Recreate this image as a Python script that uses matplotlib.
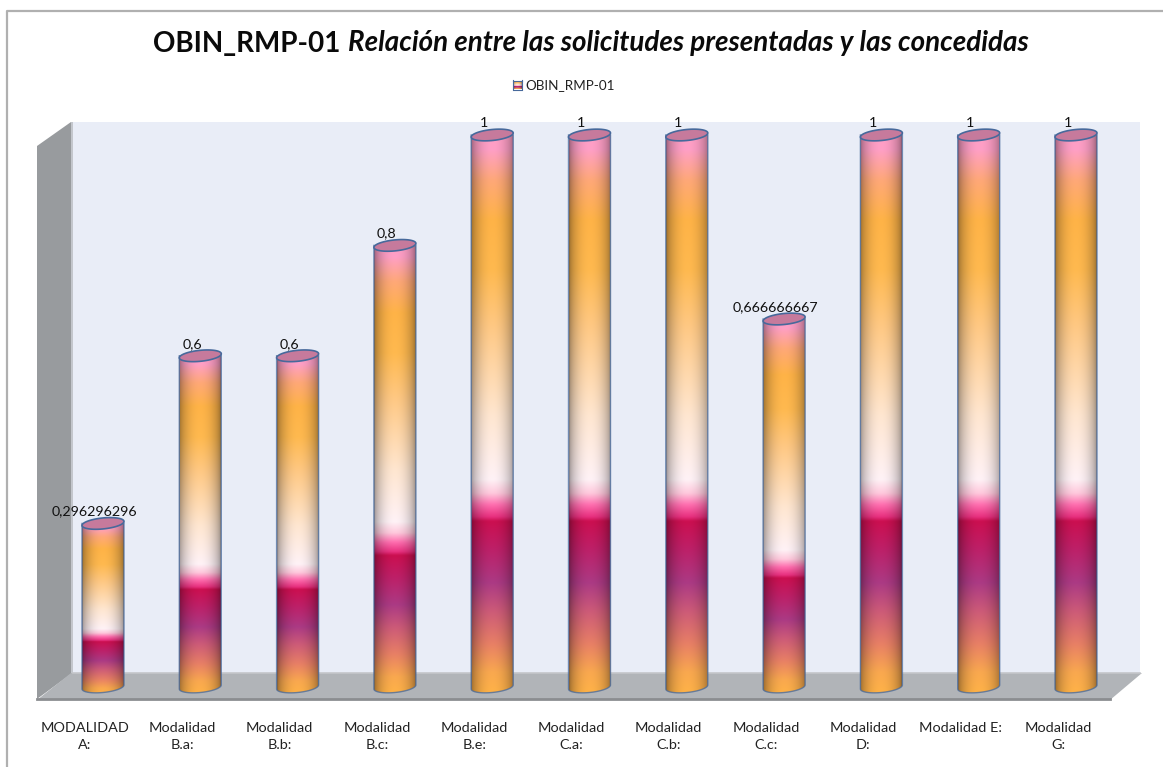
import numpy as np
import matplotlib
matplotlib.use('Agg')
import matplotlib.pyplot as plt
from matplotlib.patches import Polygon, Rectangle
from matplotlib.colors import to_rgb
from matplotlib.transforms import ScaledTranslation

plt.rcParams['font.family'] = ['Lato', 'DejaVu Sans']

# chart data
categories = ['MODALIDAD\nA:', 'Modalidad\nB.a:', 'Modalidad\nB.b:', 'Modalidad\nB.c:',
              'Modalidad\nB.e:', 'Modalidad\nC.a:', 'Modalidad\nC.b:', 'Modalidad\nC.c:',
              'Modalidad\nD:', 'Modalidad E:', 'Modalidad\nG:']
values = [0.296296296, 0.6, 0.6, 0.8, 1, 1, 1, 0.666666667, 1, 1, 1]
value_labels = ['0,296296296', '0,6', '0,6', '0,8', '1', '1', '1', '0,666666667', '1', '1', '1']
series_name = 'OBIN_RMP-01'

W, H = 1163, 767
STEP_PX = 97.3
UNIT_PX = 552.0
RX_PX, RY_PX, TILT_PX = 21.0, 5.5, 2.0

# gradient of a bar, bottom to top
grad_pos = [0.0, 0.04, 0.09, 0.15, 0.20, 0.26, 0.31, 0.318, 0.34, 0.36, 0.385, 0.50, 0.66, 0.76, 0.85, 0.92, 0.975, 1.0]
grad_col = ['#ffb347', '#f9a84f', '#e88065', '#cc5a78', '#ab3a84', '#bd2068', '#cb0f50', '#e8307f',
            '#ff70b0', '#ffc8dc', '#fff2f6', '#ffe6d0', '#ffc883', '#ffb94f', '#ffb347', '#ffa878',
            '#ff9fc6', '#ff9fc6']


def bar_image(n_rows=500, n_cols=42):
    """Vertical gradient times a shading across the cylinder"""
    pos = np.linspace(0, 1, n_rows)
    cols = np.array([to_rgb(c) for c in grad_col])
    rows = np.stack([np.interp(pos, grad_pos, cols[:, i]) for i in range(3)], axis=1)
    u = np.linspace(0, 1, n_cols)
    shade = 0.58 + 0.42 * np.sin(np.pi * u) ** 0.55
    return rows[:, None, :] * shade[None, :, None]


def ellipse_xy(xc, v, t):
    """Tilted ellipse points in data units"""
    x = xc + RX_PX / STEP_PX * np.cos(t)
    y = v + (RY_PX * np.sin(t) + TILT_PX * np.cos(t)) / UNIT_PX
    return np.column_stack([x, y])


fig = plt.figure(figsize=(W / 100, H / 100), dpi=100)

# frame, walls and floor, in pixels
bg = fig.add_axes([0, 0, 1, 1])
bg.set_xlim(0, W)
bg.set_ylim(H, 0)
bg.axis('off')
bg.plot([6.5, 6.5, W], [H, 10.5, 10.5], color='#b0b0b0', lw=1.6)
bg.add_patch(Rectangle((71, 122), 1069, 552, fc='#e9edf7', ec='none'))
bg.add_patch(Polygon([(37, 146), (71, 122), (71, 674), (37, 699)], fc='#989b9e', ec='none'))
bg.add_patch(Rectangle((71, 122), 2, 552, fc='#c3c6cc', ec='none'))
bg.add_patch(Polygon([(37, 700), (71, 673), (1142, 673), (1110, 700)], fc='#b1b4b8', ec='none'))
bg.plot([73, 1140], [673, 673], color='#c4c6ca', lw=1.2)
bg.plot([37, 1110], [699, 699], color='#8b8d90', lw=2)

# bars
left_px = 103 - STEP_PX / 2
ax = fig.add_axes([left_px / W, 1 - 687 / H, len(values) * STEP_PX / W, UNIT_PX / H])
ax.patch.set_alpha(0)
img = bar_image()
lower = -8.0 / UNIT_PX
for i, v in enumerate(values):
    xl, xr = i - RX_PX / STEP_PX, i + RX_PX / STEP_PX
    im = ax.imshow(img, extent=(xl, xr, lower, v), origin='lower', aspect='auto',
                   interpolation='bilinear', zorder=2)
    t = np.linspace(np.pi, 2 * np.pi, 40)
    outline = np.vstack([[[xl, v]], ellipse_xy(i, 0, t), [[xr, v]]])
    clip = Polygon(outline, transform=ax.transData, fc='none', ec='none')
    clip.set_clip_on(False)
    ax.add_patch(clip)
    # the base of the cylinder hangs below the axes box
    im.set_clip_box(fig.bbox)
    im.set_clip_path(clip)
    ax.plot(outline[:, 0], outline[:, 1], color='#47699b', lw=1.0, alpha=0.75,
            zorder=3, clip_on=False)
    top = ellipse_xy(i, v, np.linspace(0, 2 * np.pi, 60))
    ax.add_patch(Polygon(top, fc='#c67a9c', ec='#47699b', lw=1.2, zorder=4, clip_on=False))
    ax.annotate(value_labels[i], (i, v), xytext=(-6.0, 8.5), textcoords='offset points',
                ha='center', va='center', fontsize=10.3, color='#111111',
                annotation_clip=False, zorder=5)

ax.set_xlim(-0.5, len(values) - 0.5)
ax.set_ylim(0, 1)
ax.set_xticks(range(len(categories)))
ax.set_xticklabels(categories, fontsize=10.4, color='#222222', linespacing=1.5)
ax.set_yticks([])
ax.tick_params(axis='x', length=0, pad=25)
# axis labels sit left of their bars
shift = ScaledTranslation(-18 / 100, 0, fig.dpi_scale_trans)
for lab in ax.get_xticklabels():
    lab.set_transform(lab.get_transform() + shift)
for s in ax.spines.values():
    s.set_visible(False)

# title in two parts, bold then bold italic
fig.canvas.draw()
r = fig.canvas.get_renderer()
t1 = fig.text(153 / W, 1 - 43.5 / H, 'OBIN_RMP-01', fontsize=20, fontweight='bold',
              va='center', ha='left', color='#0a0a0a')
x_next = t1.get_window_extent(r).x1 + 8
fig.text(x_next / W, 1 - 43.5 / H, 'Relación entre las solicitudes presentadas y las concedidas',
         fontsize=20, fontweight='bold', style='italic', va='center', ha='left', color='#0a0a0a')

# legend
fig.text(525 / W, 1 - 85 / H, series_name, fontsize=9.7, va='center', ha='left', color='#222222')
lg = fig.add_axes([512.5 / W, 1 - 89.5 / H, 9 / W, 9 / H])
lg.imshow(img, origin='lower', aspect='auto')
lg.set_xticks([])
lg.set_yticks([])
for s in lg.spines.values():
    s.set_color('#47699b')
    s.set_linewidth(0.8)

fig.savefig('out.png', dpi=100)
